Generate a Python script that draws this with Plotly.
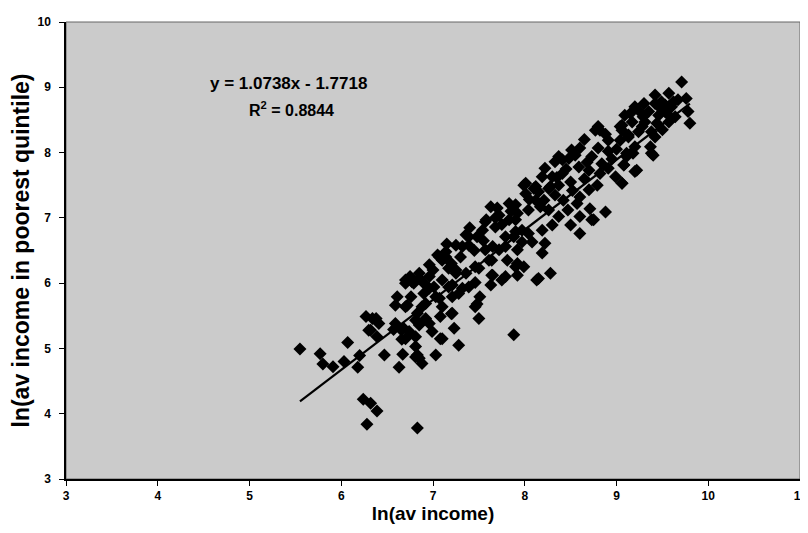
import plotly.graph_objects as go

# ---- data ----
x_lowleft = [5.55, 5.77, 5.80, 5.91, 6.07, 6.03, 6.18, 6.20, 6.32, 6.27, 6.38, 6.39, 6.47, 6.24, 6.32, 6.39,
             6.28, 6.83, 6.59, 6.61, 6.72, 6.70, 6.77, 6.66, 6.67, 6.63, 6.57, 6.65, 6.81, 6.81, 6.81, 6.85,
             6.88, 7.03, 7.08, 7.28, 7.23, 7.88, 7.50, 7.48, 7.51, 7.46, 7.65, 7.75, 7.20, 6.96, 6.81]
y_lowleft = [4.99, 4.92, 4.76, 4.72, 5.09, 4.80, 4.71, 4.89, 5.28, 5.49, 5.46, 5.18, 4.90, 4.22, 4.16, 4.04,
             3.84, 3.78, 5.66, 5.79, 5.66, 6.00, 6.02, 5.14, 4.91, 4.71, 5.29, 5.29, 5.03, 4.87, 5.43, 4.85,
             4.77, 4.90, 5.15, 5.05, 5.31, 5.21, 5.46, 5.68, 5.79, 6.01, 6.12, 6.05, 5.53, 5.38, 5.18]

x_mid = [6.70, 6.79, 6.85, 6.96, 7.05, 7.10, 7.14, 7.25, 7.36, 7.39, 7.48, 7.54, 7.58, 7.63, 7.83, 7.72,
         7.68, 7.83, 7.92, 7.90, 7.79, 7.57, 7.72, 7.64, 7.81, 7.92, 7.97, 7.50, 7.64, 7.92, 7.63, 7.36,
         7.25, 7.21, 7.32, 7.10, 7.01, 6.90, 6.76, 6.70, 6.83, 6.92, 7.07, 7.21, 7.21, 7.08, 6.85, 6.99,
         7.10, 6.68, 6.70, 6.83, 7.97, 7.68, 7.57, 7.39, 7.32, 7.14, 7.07, 6.96, 6.85, 6.34, 6.41, 6.30,
         6.59, 6.92, 6.85, 6.74, 7.10, 7.03, 6.88, 6.96, 7.17, 7.39, 7.28, 7.46, 7.61, 7.65, 7.79, 7.90,
         7.79, 7.25, 7.17, 7.46,
         7.30, 7.45, 7.20, 7.55, 7.00, 7.15, 7.40, 7.75, 7.70, 7.85, 6.75, 6.90]
y_mid = [6.05, 6.00, 6.15, 6.10, 6.43, 6.35, 6.48, 6.58, 6.74, 6.58, 6.71, 6.81, 6.97, 7.17, 7.22, 7.04,
         6.86, 6.97, 7.07, 6.79, 6.71, 6.51, 6.51, 6.35, 6.35, 6.51, 6.63, 6.23, 6.12, 6.12, 5.97, 6.15,
         6.20, 5.97, 5.92, 6.05, 5.94, 5.84, 5.79, 5.64, 5.54, 5.69, 5.77, 5.79, 5.54, 5.49, 5.36, 5.26,
         5.15, 5.31, 5.15, 4.90, 6.81, 7.00, 6.94, 6.71, 6.56, 6.40, 6.40, 6.28, 6.07, 5.46, 5.38, 5.28,
         5.38, 5.46, 5.38, 5.26, 5.64, 5.79, 5.64, 5.92, 5.94, 5.94, 5.84, 6.25, 6.35, 6.56, 6.56, 6.25,
         6.10, 6.15, 6.23, 5.64,
         6.40, 6.50, 6.30, 6.65, 6.20, 6.60, 6.85, 6.90, 7.15, 7.10, 6.10, 6.00]

x_upper = [8.82, 8.91, 9.04, 9.13, 9.18, 9.11, 9.20, 9.08, 9.06, 8.91, 8.80, 8.84, 8.73, 8.60, 8.55, 8.48,
           8.41, 8.33, 8.22, 8.19, 8.30, 8.41, 8.59, 8.70, 8.82, 8.91, 8.99, 8.79, 8.70, 8.60, 8.50, 8.37,
           8.26, 8.10, 7.99, 8.01, 8.12, 8.21, 8.33, 8.42, 8.57, 8.71, 8.88, 8.73, 8.60, 8.50, 8.60, 8.37,
           8.26, 8.17, 8.04, 7.90, 8.30, 8.19, 8.22, 8.19, 8.04, 8.08, 7.90, 7.88, 7.92, 7.99, 8.15, 8.28,
           9.38, 8.75, 8.13, 8.01, 8.12, 8.28, 8.37, 8.51, 8.77, 8.80, 9.20, 9.29, 9.09, 9.42, 9.53, 9.62,
           8.45, 8.35, 8.52, 8.65, 8.47, 8.15, 8.05, 8.65, 8.88, 8.95, 8.68, 9.00]
y_upper = [8.34, 8.19, 8.40, 8.27, 7.99, 7.94, 7.71, 7.81, 7.53, 8.02, 8.07, 7.83, 7.94, 8.07, 7.96, 7.91,
           7.89, 7.86, 7.76, 7.63, 7.63, 7.68, 7.78, 7.73, 7.68, 7.76, 7.63, 7.50, 7.43, 7.32, 7.55, 7.50,
           7.45, 7.45, 7.50, 7.37, 7.27, 7.27, 7.35, 7.27, 7.22, 7.14, 7.09, 6.97, 7.02, 6.89, 6.76, 7.02,
           7.12, 7.17, 7.12, 7.20, 6.89, 6.81, 6.61, 6.46, 6.76, 6.63, 6.97, 6.71, 6.30, 6.25, 6.07, 6.15,
           7.99, 6.97, 6.05, 7.53, 7.48, 7.48, 7.94, 8.04, 8.34, 8.40, 8.70, 8.55, 8.57, 8.75, 8.73, 8.78,
           7.75, 7.62, 7.42, 7.60, 7.12, 7.40, 7.28, 8.20, 8.28, 7.90, 7.85, 8.05]

x_top = [9.71, 9.42, 9.57, 9.49, 9.67, 9.76, 9.78, 9.80, 9.60, 9.53, 9.64, 9.46, 9.35, 9.24, 9.15, 9.17,
         9.06, 9.31, 9.44, 9.57, 9.38, 9.24, 9.13, 9.42, 9.20, 9.37, 9.11, 9.40, 9.08, 9.22, 9.06, 9.06, 9.04,
         9.30, 9.48, 9.28, 9.55, 9.50]
y_top = [9.08, 8.88, 8.91, 8.78, 8.81, 8.83, 8.63, 8.45, 8.70, 8.63, 8.55, 8.57, 8.63, 8.65, 8.60, 8.47,
         8.42, 8.47, 8.45, 8.47, 8.32, 8.32, 8.24, 8.24, 8.09, 8.09, 7.99, 7.96, 7.81, 7.73, 7.53, 8.34, 8.19,
         8.75, 8.68, 8.40, 8.60, 8.35]

slope = 1.0738
intercept = -1.7718
r_squared = 0.8844

x_all = x_lowleft + x_mid + x_upper + x_top
y_all = y_lowleft + y_mid + y_upper + y_top

x_ticks = [3, 4, 5, 6, 7, 8, 9, 10, 11]
y_ticks = [3, 4, 5, 6, 7, 8, 9, 10]

FONT = "Liberation Sans, Arial, sans-serif"

fig = go.Figure()
fig.add_trace(go.Scatter(
    x=x_all, y=y_all, mode="markers",
    marker=dict(symbol="diamond", size=10, color="black", line=dict(width=0)),
    showlegend=False, hoverinfo="x+y"))

x_line = [min(x_all), max(x_all)]
y_line = [slope * v + intercept for v in x_line]
fig.add_trace(go.Scatter(x=x_line, y=y_line, mode="lines",
                         line=dict(color="black", width=2.2), showlegend=False))

fig.add_annotation(x=5.43, y=9.06, xref="x", yref="y", showarrow=False,
                   text=f"y = {slope}x - {abs(intercept)}",
                   font=dict(family=FONT, size=17, color="black", weight="bold"))
fig.add_annotation(x=5.46, y=8.66, xref="x", yref="y", showarrow=False,
                   text=f"R<sup>2</sup> = {r_squared}",
                   font=dict(family=FONT, size=16, color="black", weight="bold"))

# plot-area frame (thin dark border like the reference)
fig.add_shape(type="rect", xref="x domain", yref="y domain", x0=0, x1=1, y0=0, y1=1,
              line=dict(color="#666666", width=1), layer="below")

axis_common = dict(showgrid=False, zeroline=False, ticks="outside", ticklen=5,
                   tickcolor="black", showline=True, linecolor="black", linewidth=1.5,
                   mirror=False, ticklabeloverflow="allow",
                   tickfont=dict(family=FONT, size=12, color="black", weight="bold"))

fig.update_xaxes(range=[3, 11], tickvals=x_ticks, ticktext=[str(t) for t in x_ticks],
                 title=dict(text="ln(av income)", standoff=2,
                            font=dict(family=FONT, size=19, color="black", weight="bold")),
                 automargin=False, **axis_common)
fig.update_yaxes(range=[3, 10], tickvals=y_ticks, ticktext=[str(t) for t in y_ticks],
                 ticklabelstandoff=6,
                 title=dict(text="ln(av income in poorest quintile)", standoff=8,
                            font=dict(family=FONT, size=23, color="black", weight="bold")),
                 automargin=False, **axis_common)

# page body adds an 8px offset; size the figure so the plot area lands where the reference has it
fig.update_layout(
    width=800, height=517,
    margin=dict(l=58, r=8, t=14, b=46),
    paper_bgcolor="white",
    plot_bgcolor="#cbcbcb",
    font=dict(family=FONT, color="black"),
)

fig.write_html("out.html")
